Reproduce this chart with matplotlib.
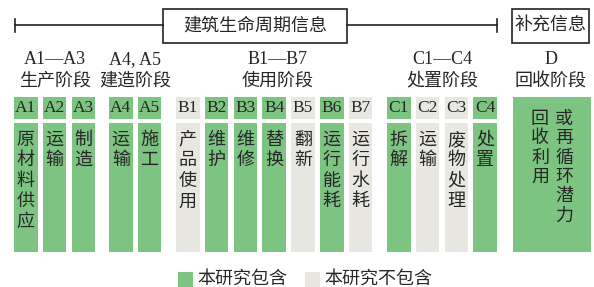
import matplotlib
matplotlib.use("Agg")
import matplotlib.pyplot as plt
from matplotlib.patches import Rectangle

plt.rcParams['font.family'] = ['Liberation Serif', 'Noto Sans CJK SC']

# stage groups
group_codes = ["A1—A3", "A4, A5", "B1—B7", "C1—C4", "D"]
group_names = ["生产阶段", "建造阶段", "使用阶段", "处置阶段", "回收阶段"]

# modules
module_codes = ["A1", "A2", "A3", "A4", "A5",
                "B1", "B2", "B3", "B4", "B5", "B6", "B7",
                "C1", "C2", "C3", "C4"]
module_names = ["原材料供应", "运输", "制造", "运输", "施工",
                "产品使用", "维护", "维修", "替换", "翻新", "运行能耗", "运行水耗",
                "拆解", "运输", "废物处理", "处置"]
module_group = [0, 0, 0, 1, 1, 2, 2, 2, 2, 2, 2, 2, 3, 3, 3, 3]
included = [1, 1, 1, 1, 1, 0, 1, 1, 1, 0, 1, 0, 1, 0, 0, 1]

d_text = ["回收利用", "或再循环潜力"]
top_titles = ["建筑生命周期信息", "补充信息"]
legend_labels = ["本研究包含", "本研究不包含"]

GREEN = "#7dc382"
GREY = "#e9e7e1"
TXT = "#262626"

fig = plt.figure(figsize=(5.94, 2.87), dpi=100)
ax = fig.add_axes([0, 0, 1, 1])
ax.set_xlim(0, 594)
ax.set_ylim(287, 0)
ax.axis("off")


def vtext(cx, top, s, pitch=20.5, size=13):
    # vertical Chinese text, one character per row
    for i, ch in enumerate(s):
        ax.text(cx, top + i * pitch + pitch / 2, ch, ha="center", va="center",
                fontsize=size, color=TXT)


# layout
group_start = [14, 109, 176, 387]
pitch = 28.8
w = 23.5
idx_in_group = {}
xs = []
for g in module_group:
    k = idx_in_group.get(g, 0)
    xs.append(group_start[g] + k * pitch)
    idx_in_group[g] = k + 1

for x, code, name, inc in zip(xs, module_codes, module_names, included):
    c = GREEN if inc else GREY
    ax.add_patch(Rectangle((x, 97), w, 22, facecolor=c, edgecolor="none"))
    ax.add_patch(Rectangle((x, 123), w, 129, facecolor=c, edgecolor="none"))
    ax.text(x + w / 2, 108.5, code, ha="center", va="center", fontsize=12.5, color=TXT)
    vtext(x + w / 2, 130, name)

# D block
ax.add_patch(Rectangle((513, 97), 78, 155, facecolor=GREEN, edgecolor="none"))
for cx, t in zip([540, 564], d_text):
    vtext(cx, 110, t, pitch=19.3)

# group headings
group_cx = []
for g in range(4):
    members = [x for x, mg in zip(xs, module_group) if mg == g]
    group_cx.append((members[0] + members[-1] + w) / 2)
group_cx.append(551)
group_cx[2] = 278
for cx, code, name in zip(group_cx, group_codes, group_names):
    ax.text(cx, 60, code, ha="center", va="center", fontsize=13, color=TXT)
    ax.text(cx, 81, name, ha="center", va="center", fontsize=13, color=TXT)

# top bracket line
lw = 1.2
ax.plot([15, 163], [25, 25], color="#222222", lw=lw)
ax.plot([347, 497], [25, 25], color="#222222", lw=lw)
ax.plot([15, 15], [19, 32], color="#222222", lw=lw)
ax.plot([497, 497], [19, 32], color="#222222", lw=lw)
ax.add_patch(Rectangle((163, 9), 184, 34, facecolor="white", edgecolor="#222222", lw=lw))
ax.add_patch(Rectangle((512, 9), 77, 34, facecolor="white", edgecolor="#222222", lw=lw))
ax.text(255, 26, top_titles[0], ha="center", va="center", fontsize=13, color=TXT)
ax.text(550.5, 26, top_titles[1], ha="center", va="center", fontsize=13, color=TXT)

# legend
for lx, c, lab in zip([178, 305], [GREEN, GREY], legend_labels):
    ax.add_patch(Rectangle((lx, 272), 15, 15, facecolor=c, edgecolor="none"))
    ax.text(lx + 19, 279, lab, ha="left", va="center", fontsize=13, color=TXT)

fig.savefig("out.png", dpi=100)
